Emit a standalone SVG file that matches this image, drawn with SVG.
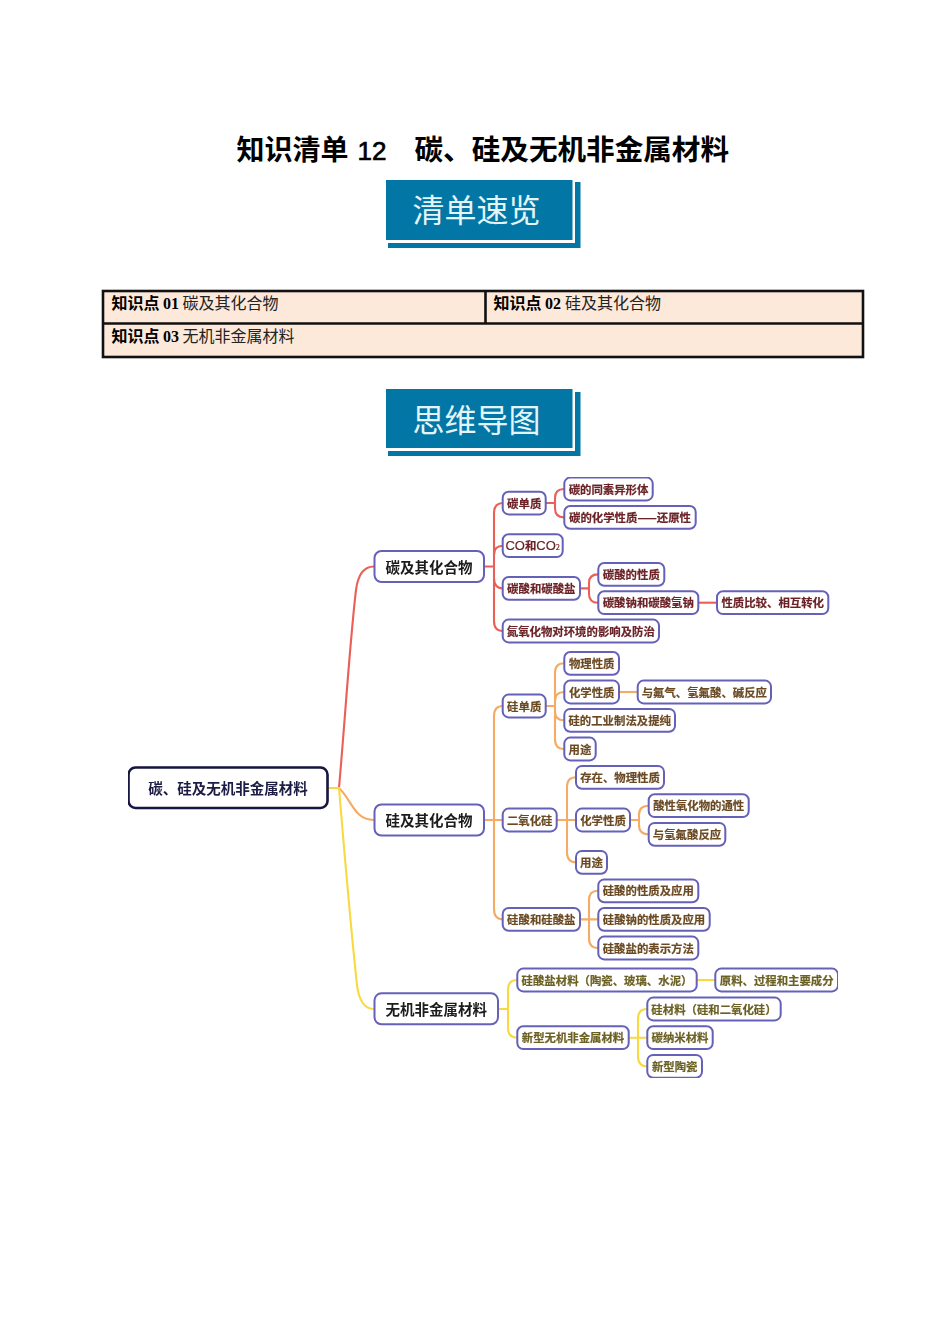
<svg xmlns="http://www.w3.org/2000/svg" width="950" height="1344" viewBox="0 0 950 1344">
<style>
text{font-family:"Noto Sans CJK SC",sans-serif}
.banner{fill:#0277a5}
.bt{font-size:32px;fill:#e4f5fa;text-anchor:middle}
.title{font-size:28.6px;font-weight:700;fill:#000}
.cell{fill:#fce9da;stroke:#111;stroke-width:2.6}
.tb{font-size:16px;font-weight:700;fill:#000}
.tn{font-family:"Liberation Serif","Noto Sans CJK SC",serif;font-size:16px;font-weight:700;fill:#000}
.tr{font-size:16px;fill:#222}
.n rect{fill:#fff;stroke:#6560b8;stroke-width:2}
.n text{font-size:11.4px;font-weight:700;text-anchor:middle;stroke-width:.2}
.l2 text{font-size:14.5px;fill:#1a1a1a}
.root rect{stroke:#14143f;stroke-width:2.6}
.root text{font-size:14.5px;fill:#1c1c44}
.red text{fill:#6b2226;stroke:#6b2226}
.org text{fill:#6b4a24;stroke:#6b4a24}
.yel text{fill:#6b6024;stroke:#6b6024}
.l2 text{fill:#1a1a1a}
#connectors path{fill:none;stroke-width:2.1}
.cr{stroke:#ea5f58}
.co{stroke:#f5ab63}
.cy{stroke:#f8d93f}
</style>
<defs><filter id="soft" x="0" y="0" width="1" height="1"><feGaussianBlur stdDeviation="0.42"/></filter></defs>
<rect width="950" height="1344" fill="#fff"/>
<text class="title" y="160"><tspan x="236.500" font-size="28">知识清单</tspan><tspan x="357.500" font-family="Liberation Sans" font-weight="400" stroke="#000" stroke-width="0.7" font-size="26">12</tspan><tspan x="414.500">碳、硅及无机非金属材料</tspan></text>

<g id="banner-1">
<path class="banner" d="M575 182H580.500V248H388V243H575Z"/>
<rect class="banner" x="386" y="180" width="186.500" height="60"/>
<text class="bt" x="476.500" y="222">清单速览</text>
</g>

<g id="index-table">
<rect class="cell" x="103" y="291" width="760" height="66"/>
<path d="M103 323.500H863M485.500 291V323.500" fill="none" stroke="#111" stroke-width="2.600"/>
<text y="309"><tspan class="tb" x="111.500">知识点</tspan><tspan class="tn" x="163">01</tspan><tspan class="tr" x="182.500">碳及其化合物</tspan></text>
<text y="309"><tspan class="tb" x="493.500">知识点</tspan><tspan class="tn" x="545">02</tspan><tspan class="tr" x="565">硅及其化合物</tspan></text>
<text y="342"><tspan class="tb" x="111.500">知识点</tspan><tspan class="tn" x="163">03</tspan><tspan class="tr" x="182.500">无机非金属材料</tspan></text>
</g>

<g id="banner-2">
<path class="banner" d="M575 392H580.500V456H388V451H575Z"/>
<rect class="banner" x="386" y="389" width="186.500" height="59"/>
<text class="bt" x="476.500" y="432">思维导图</text>
</g>

<g id="mindmap" filter="url(#soft)">
<g id="connectors">
<path class="cr" d="M328 788H339C345 720 350 640 356 590Q359 566.500 374 566.500"/>
<path class="co" d="M339 788C352 800 354 820 374 820"/>
<path class="cy" d="M328 788H339C345 860 351 930 357 985Q360 1009 374 1009"/>

<path class="cr" d="M484 566.500H494M503 503Q494 503 494 513V621Q494 631 503 631M503 545.700Q494 545.700 494 555M494 578Q494 588.400 503 588.400"/>
<path class="cr" d="M546 503H555M564 489Q555 489 555 498V508Q555 517.400 564 517.400"/>
<path class="cr" d="M580 588.400H589M598 574.400Q589 574.400 589 583V594Q589 602.700 598 602.700"/>
<path class="cr" d="M698 602.700H717"/>

<path class="co" d="M484 820H503M503 706Q494 706 494 716V909Q494 919.400 503 919.400"/>
<path class="co" d="M546 706H555M564 663.300Q555 663.300 555 673V739Q555 749 564 749M564 692Q555 692 555 701M555 711Q555 720.300 564 720.300"/>
<path class="co" d="M619 692H638"/>
<path class="co" d="M557 820H576M576 777.300Q567 777.300 567 787V852Q567 862.300 576 862.300"/>
<path class="co" d="M630 820H639M648.700 805.700Q639 805.700 639 815V825Q639 834.300 648.700 834.300"/>
<path class="co" d="M580 919.400H598M598 890.800Q589 890.800 589 900V938Q589 948 598 948"/>

<path class="cy" d="M498 1009H508M517 980Q508 980 508 990V1028Q508 1037.700 517 1037.700"/>
<path class="cy" d="M697 980H715"/>
<path class="cy" d="M629 1037.700H647M647 1009Q638 1009 638 1019V1056Q638 1066.300 647 1066.300"/>
</g>

<g id="root" class="n root"><rect x="128.500" y="767.500" width="199" height="40.500" rx="7"/><text x="228" y="794">碳、硅及无机非金属材料</text></g>

<g id="n-c" class="n l2"><rect x="374.500" y="551" width="109.500" height="31" rx="7"/><text x="429" y="572.600">碳及其化合物</text></g>
<g id="n-si" class="n l2"><rect x="374.500" y="804.500" width="109.500" height="31" rx="7"/><text x="429" y="826">硅及其化合物</text></g>
<g id="n-inorg" class="n l2"><rect x="374.500" y="993.300" width="123.500" height="31" rx="7"/><text x="436.300" y="1015">无机非金属材料</text></g>

<g class="red">
<g id="c1" class="n"><rect x="502.700" y="491.800" width="43" height="22.600" rx="6"/><text x="524.200" y="507.800">碳单质</text></g>
<g id="c1a" class="n"><rect x="564.300" y="477.600" width="88.400" height="22.800" rx="6"/><text x="608.500" y="493.500">碳的同素异形体</text></g>
<g id="c1b" class="n"><rect x="564.300" y="506" width="131.400" height="22.800" rx="6"/><text x="630" y="522">碳的化学性质——还原性</text></g>
<g id="c2" class="n"><rect x="502.700" y="534.300" width="60" height="22.800" rx="6"/><text x="532.700" y="550.300"><tspan font-family="Liberation Sans" font-size="13" font-weight="400">CO</tspan>和<tspan font-family="Liberation Sans" font-size="13" font-weight="400">CO</tspan><tspan font-size="7.500" font-weight="400">2</tspan></text></g>
<g id="c3" class="n"><rect x="502.700" y="577" width="77.300" height="22.800" rx="6"/><text x="541.300" y="593">碳酸和碳酸盐</text></g>
<g id="c3a" class="n"><rect x="598.300" y="563" width="66" height="22.800" rx="6"/><text x="631.300" y="579">碳酸的性质</text></g>
<g id="c3b" class="n"><rect x="598.300" y="591.300" width="100" height="22.800" rx="6"/><text x="648.300" y="607.300">碳酸钠和碳酸氢钠</text></g>
<g id="c3c" class="n"><rect x="717" y="591.300" width="111.300" height="22.800" rx="6"/><text x="772.700" y="607.300">性质比较、相互转化</text></g>
<g id="c4" class="n"><rect x="502.700" y="619.600" width="156.300" height="22.800" rx="6"/><text x="580.800" y="635.600">氮氧化物对环境的影响及防治</text></g>
</g>

<g class="org">
<g id="s1" class="n"><rect x="502.700" y="694.600" width="43" height="22.800" rx="6"/><text x="524.200" y="710.600">硅单质</text></g>
<g id="s1a" class="n"><rect x="564.300" y="652" width="54.700" height="22.800" rx="6"/><text x="591.700" y="668">物理性质</text></g>
<g id="s1b" class="n"><rect x="564.300" y="680.600" width="54.700" height="22.800" rx="6"/><text x="591.700" y="696.600">化学性质</text></g>
<g id="s1c" class="n"><rect x="637.700" y="680.600" width="133.300" height="22.800" rx="6"/><text x="704.300" y="696.600">与氟气、氢氟酸、碱反应</text></g>
<g id="s1d" class="n"><rect x="564.300" y="708.900" width="110.700" height="22.800" rx="6"/><text x="619.700" y="724.900">硅的工业制法及提纯</text></g>
<g id="s1e" class="n"><rect x="564.300" y="737.600" width="31.400" height="22.800" rx="6"/><text x="580" y="753.600">用途</text></g>
<g id="s2" class="n"><rect x="502.700" y="808.600" width="54" height="22.800" rx="6"/><text x="529.700" y="824.600">二氧化硅</text></g>
<g id="s2a" class="n"><rect x="576" y="765.900" width="88" height="22.800" rx="6"/><text x="620" y="781.900">存在、物理性质</text></g>
<g id="s2b" class="n"><rect x="576" y="808.600" width="54" height="22.800" rx="6"/><text x="603" y="824.600">化学性质</text></g>
<g id="s2c" class="n"><rect x="648.700" y="794.300" width="100" height="22.800" rx="6"/><text x="698.700" y="810.300">酸性氧化物的通性</text></g>
<g id="s2d" class="n"><rect x="648.700" y="822.900" width="76.600" height="22.800" rx="6"/><text x="687" y="838.900">与氢氟酸反应</text></g>
<g id="s2e" class="n"><rect x="576" y="850.900" width="31" height="22.800" rx="6"/><text x="591.500" y="866.900">用途</text></g>
<g id="s3" class="n"><rect x="502.700" y="908" width="77.300" height="22.800" rx="6"/><text x="541.300" y="924">硅酸和硅酸盐</text></g>
<g id="s3a" class="n"><rect x="598.300" y="879.400" width="100" height="22.800" rx="6"/><text x="648.300" y="895.400">硅酸的性质及应用</text></g>
<g id="s3b" class="n"><rect x="598.300" y="908" width="111.400" height="22.800" rx="6"/><text x="654" y="924">硅酸钠的性质及应用</text></g>
<g id="s3c" class="n"><rect x="598.300" y="936.600" width="100" height="22.800" rx="6"/><text x="648.300" y="952.600">硅酸盐的表示方法</text></g>
</g>

<g class="yel">
<g id="m1" class="n"><rect x="517.300" y="968.600" width="179.400" height="22.800" rx="6"/><text x="607" y="984.600">硅酸盐材料（陶瓷、玻璃、水泥）</text></g>
<g id="m1a" class="n"><rect x="715.300" y="968.600" width="122.700" height="22.800" rx="6"/><text x="776.700" y="984.600">原料、过程和主要成分</text></g>
<g id="m2" class="n"><rect x="517.300" y="1026.300" width="111.400" height="22.800" rx="6"/><text x="573" y="1042.300">新型无机非金属材料</text></g>
<g id="m2a" class="n"><rect x="647.300" y="997.600" width="133.400" height="22.800" rx="6"/><text x="714" y="1013.600">硅材料（硅和二氧化硅）</text></g>
<g id="m2b" class="n"><rect x="647.300" y="1026.300" width="65.400" height="22.800" rx="6"/><text x="680" y="1042.300">碳纳米材料</text></g>
<g id="m2c" class="n"><rect x="647.300" y="1054.900" width="54.700" height="22.800" rx="6"/><text x="674.700" y="1070.900">新型陶瓷</text></g>
</g>
</g>
</svg>
